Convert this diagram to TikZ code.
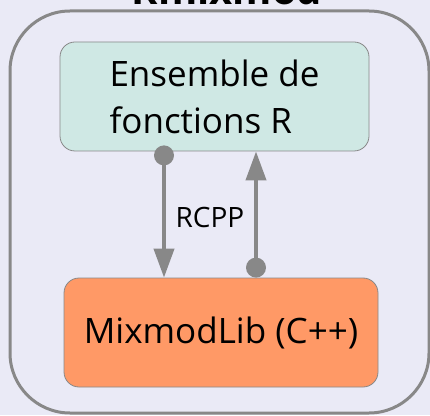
\documentclass[tikz,border=0pt]{standalone}
\usepackage{fontspec}
\setmainfont{Open Sans}
\usepackage{tikz}
\usetikzlibrary{arrows.meta}
\usetikzlibrary{positioning}
\definecolor{fond}{RGB}{234,234,246}
\definecolor{trait}{RGB}{136,136,136}
\definecolor{vertclair}{RGB}{207,232,228}
\definecolor{orange}{RGB}{255,153,102}
\tikzset{boite/.style = {draw = trait, line width = 0.8, rounded corners = 15, inner sep = 0},
         pastille/.style = {fill = trait, circle, inner sep = 0, minimum size = 20},
         fleche/.style = {draw = trait, line width = 4, -{Triangle[width = 20pt, length = 29pt]}}}

\begin{document}
\begin{tikzpicture}[x = 1pt, y = 1pt]
      \useasboundingbox [fill = fond] (0, 0) rectangle (430, 415);

      \node [font = \bfseries\fontsize{40}{48}\selectfont, anchor = base] (titre) at (227, 410) {Rmixmod};
      \draw [trait, line width = 3, rounded corners = 60] (10, 2) rectangle (429, 404);

      \node [boite, fill = vertclair, minimum width = 309, minimum height = 109, align = left,
             font = \fontsize{35}{47}\selectfont] (fonctions) at (214.5, 318.5) {Ensemble de\\fonctions R};
      \node [boite, fill = orange, minimum width = 314, minimum height = 109,
             font = \fontsize{35}{40}\selectfont] (lib) at (221, 82.5) {MixmodLib (C++)};

      \node [pastille] (depart) at ([xshift = -50.5, yshift = -4] fonctions.south) {};
      \node [pastille] (retour) at ([xshift = 35, yshift = 10] lib.north) {};

      \draw [fleche] (depart.center) -- (depart.center |- lib.north);
      \draw [fleche] (retour.center) -- (retour.center |- fonctions.south);

      \node [font = \fontsize{28}{30}\selectfont] (rcpp) at (210, 198) {RCPP};
    \end{tikzpicture}
\end{document}
